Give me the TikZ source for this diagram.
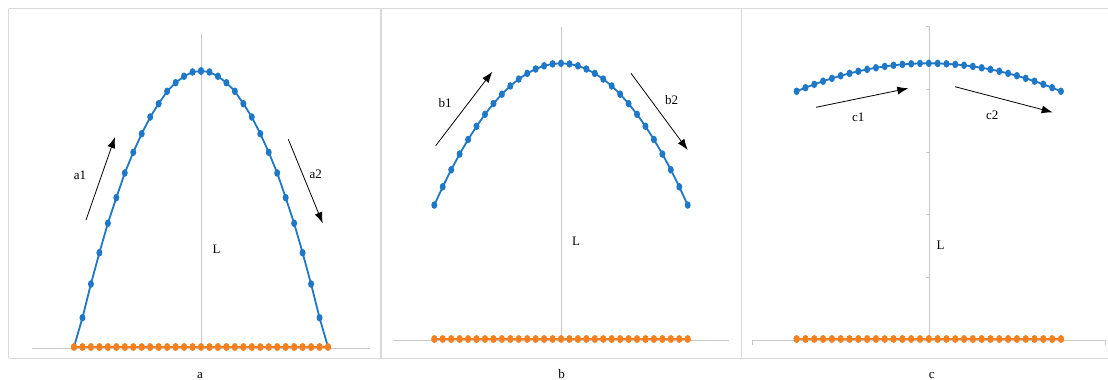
\documentclass[tikz,border=0pt]{standalone}
\usepackage{fontspec}
\setmainfont{Liberation Serif}
\usetikzlibrary{arrows.meta}
\definecolor{frameg}{RGB}{217,217,217}
\definecolor{axisg}{RGB}{200,200,200}
\definecolor{serblue}{RGB}{31,119,200}
\definecolor{serorange}{RGB}{245,128,32}
\tikzset{
 framel/.style={draw=frameg,line width=1.2pt},
 axisl/.style={draw=axisg,line width=1pt},
 bluel/.style={draw=serblue,line width=1.8pt},
 orangel/.style={draw=serorange,line width=1.8pt},
 bdot/.style={fill=serblue},
 odot/.style={fill=serorange},
 dirarrow/.style={draw=black,line width=0.8pt,-{Latex[length=11pt,width=8pt]}},
 lab/.style={font=\fontsize{13}{15}\selectfont,inner sep=0pt},
 caplab/.style={font=\fontsize{13}{15}\selectfont,inner sep=0pt,anchor=base}
}
\begin{document}
\begin{tikzpicture}[x=1pt,y=-1pt]
\useasboundingbox (0,0) rectangle (1108,380);
% frame
\draw[framel] (8.7,8.7) -- (1108,8.7);
\draw[framel] (8.7,358.3) -- (1108,358.3);
\draw[framel] (8.7,8.7) -- (8.7,358.3);
\draw[framel] (381,8.7) -- (381,358.3);
\draw[framel] (741.7,8.7) -- (741.7,358.3);

% ---------- panel a ----------
\draw[axisl] (201,34) -- (201,348);
\draw[axisl] (32,348) -- (370,348);
\draw[bluel] plot coordinates {(74,347) (82.47,317.7) (90.93,284) (99.4,252.7) (107.87,223.3) (116.33,197.7) (124.8,173) (133.27,152.3) (141.73,133.7) (150.2,117) (158.67,103.7) (167.13,91.3) (175.6,82.7) (184.07,76.3) (192.53,72) (201,71) (209.47,72) (217.93,76.3) (226.4,82.7) (234.87,91.3) (243.33,103.7) (251.8,117) (260.27,133.7) (268.73,152.3) (277.2,173) (285.67,197.7) (294.13,223.3) (302.6,252.7) (311.07,284) (319.53,317.7) (328,347)};
\foreach \i/\yy in {0/71,1/72,2/76.3,3/82.7,4/91.3,5/103.7,6/117,7/133.7,8/152.3,9/173,10/197.7,11/223.3,12/252.7,13/284,14/317.7}{
  \fill[bdot] ({201+8.467*\i},\yy) ellipse [x radius=3pt, y radius=3.8pt];
  \fill[bdot] ({201-8.467*\i},\yy) ellipse [x radius=3pt, y radius=3.8pt];
}
\draw[orangel] (74,347) -- (328,347);
\foreach \i in {-15,...,15}
  \fill[odot] ({201+8.467*\i},347) ellipse [x radius=3.2pt, y radius=4pt];
\coordinate (a1s) at (86,220);
\coordinate (a1e) at (115,137);
\coordinate (a2s) at (288.3,139.3);
\coordinate (a2e) at (322.7,223.3);
\draw[dirarrow] (a1s) -- (a1e);
\draw[dirarrow] (a2s) -- (a2e);
\node[lab] (la1) at (80,175) {a1};
\node[lab] (la2) at (315.7,174) {a2};
\node[lab] (lLa) at (216.7,249.3) {L};
\node[caplab] (capa) at (200,378) {a};

% ---------- panel b ----------
\draw[axisl] (561,26.7) -- (561,340);
\draw[axisl] (392.7,340) -- (729,340);
\draw[bluel] plot[domain=-15:15, samples=31] ({561+8.447*\x},{63.3+0.63*(\x)*(\x)});
\foreach \i in {-15,...,15}
  \fill[bdot] ({561+8.447*\i},{63.3+0.63*(\i)*(\i)}) ellipse [x radius=3pt, y radius=3.8pt];
\draw[orangel] (434.3,339) -- (687.7,339);
\foreach \i in {-15,...,15}
  \fill[odot] ({561+8.447*\i},339) ellipse [x radius=3.2pt, y radius=4pt];
\coordinate (b1s) at (435.7,145.7);
\coordinate (b1e) at (492.3,71.7);
\coordinate (b2s) at (631,73.3);
\coordinate (b2e) at (687.7,150);
\draw[dirarrow] (b1s) -- (b1e);
\draw[dirarrow] (b2s) -- (b2e);
\node[lab] (lb1) at (445,103.3) {b1};
\node[lab] (lb2) at (671.7,100) {b2};
\node[lab] (lLb) at (576,241.7) {L};
\node[caplab] (capb) at (561.7,378) {b};

% ---------- panel c ----------
\draw[axisl] (929.3,26) -- (929.3,340);
\foreach \ty in {26,89.3,152,214.7,277.3,340}
  \draw[axisl] (926.3,\ty) -- (929.3,\ty);
\draw[axisl] (752.7,340) -- (1105.7,340);
\draw[axisl] (752.7,340) -- (752.7,345);
\draw[axisl] (1105.7,340) -- (1105.7,345);
\draw[bluel] plot[domain=-15:15, samples=31] ({928.8+8.81*\x},{63.3+0.1244*(\x)*(\x)});
\foreach \i in {-15,...,15}
  \fill[bdot] ({928.8+8.81*\i},{63.3+0.1244*(\i)*(\i)}) ellipse [x radius=3pt, y radius=3.8pt];
\draw[orangel] (796.7,339) -- (1061,339);
\foreach \i in {-15,...,15}
  \fill[odot] ({928.8+8.81*\i},339) ellipse [x radius=3.2pt, y radius=4pt];
\coordinate (c1s) at (816,107.3);
\coordinate (c1e) at (908.3,88.3);
\coordinate (c2s) at (955,86.7);
\coordinate (c2e) at (1052.7,112.3);
\draw[dirarrow] (c1s) -- (c1e);
\draw[dirarrow] (c2s) -- (c2e);
\node[lab] (lc1) at (858.3,117.3) {c1};
\node[lab] (lc2) at (992.3,115) {c2};
\node[lab] (lLc) at (940.7,245.7) {L};
\node[caplab] (capc) at (931.7,378) {c};
\end{tikzpicture}
\end{document}
